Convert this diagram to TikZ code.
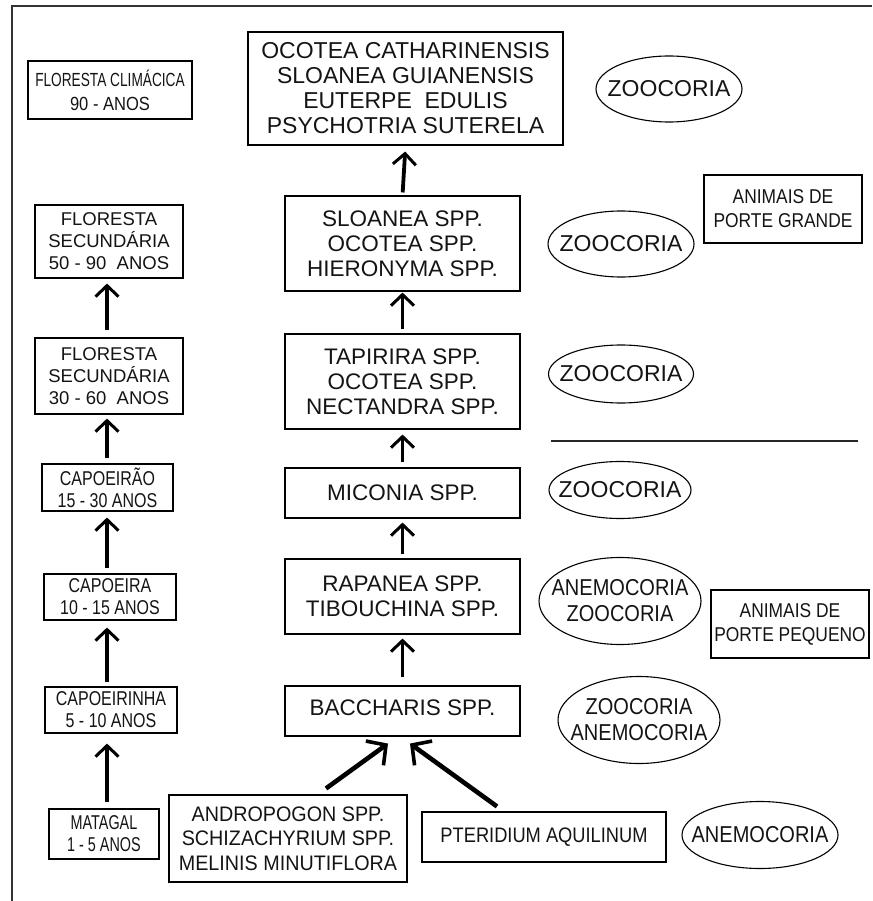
\documentclass[tikz,border=0pt]{standalone}
\usepackage{fontspec}
\setmainfont{Liberation Sans}
\newfontfamily\fA[FakeStretch=0.72]{Liberation Sans}
\newfontfamily\fB[FakeStretch=0.80]{Liberation Sans}
\newfontfamily\fC[FakeStretch=0.87]{Liberation Sans}
\newfontfamily\fD[FakeStretch=0.94]{Liberation Sans}
\usetikzlibrary{arrows.meta,shapes.geometric,calc}
\tikzset{
  bx/.style={draw, line width=1.1pt, inner sep=0pt, align=center, text=black!92},
  ell/.style={draw, ellipse, line width=1.1pt, inner sep=0pt},
  lbl/.style={align=center, text=black!92},
  arr/.style={line width=3.8pt, -{Straight Barb[length=11pt,width=23pt,line width=3pt]}},
  darr/.style={line width=4.6pt, -{Straight Barb[length=14pt,width=30pt,line width=3.6pt]}},
  mainf/.style={font=\fontsize{22.5}{25}\selectfont},
  ellf/.style={font=\fontsize{23}{26}\selectfont},
}
\begin{document}
\begin{tikzpicture}[x=1pt,y=-1pt]
\useasboundingbox (0,0) rectangle (872,901);
% frame
\draw[line width=1.4pt, black!80] (12,901) -- (12,6) -- (872,6);

% left column
\node[bx, minimum width=164, minimum height=58, font=\fontsize{19}{24}\selectfont] (clim) at (110,90)
  {{\fA FLORESTA CLIMÁCICA}\\{\fC 90 - ANOS}};
\node[bx, minimum width=148, minimum height=73, font=\fontsize{18.5}{22}\selectfont] (f5090) at (109,241.5)
  {FLORESTA\\SECUNDÁRIA\\50 - 90\ \ ANOS};
\node[bx, minimum width=148, minimum height=76, font=\fontsize{18.5}{22}\selectfont] (f3060) at (109,376)
  {FLORESTA\\SECUNDÁRIA\\30 - 60\ \ ANOS};
\node[bx, minimum width=131, minimum height=47, font=\fontsize{20}{22}\fB] (capoeirao) at (107.5,487.5)
  {CAPOEIRÃO\\15 - 30 ANOS};
\node[bx, minimum width=132, minimum height=46, font=\fontsize{20}{22}\fB] (capoeira) at (110,597)
  {CAPOEIRA\\10 - 15 ANOS};
\node[bx, minimum width=132, minimum height=46, font=\fontsize{20}{22}\fB] (capoeirinha) at (111,710)
  {CAPOEIRINHA\\5 - 10 ANOS};
\node[bx, minimum width=110, minimum height=50, font=\fontsize{20}{22}\fA] (matagal) at (104,834)
  {MATAGAL\\1 - 5 ANOS};

\coordinate (lx) at (107,0);
\draw[arr, shorten <=7pt, shorten >=5pt] (f3060.north -| lx) -- (f5090.south -| lx);
\draw[arr, shorten <=5pt, shorten >=4pt] (capoeirao.north -| lx) -- (f3060.south -| lx);
\draw[arr, shorten <=5pt, shorten >=6pt] (capoeira.north -| lx) -- (capoeirao.south -| lx);
\draw[arr, shorten <=4pt, shorten >=7pt] (capoeirinha.north -| lx) -- (capoeira.south -| lx);
\draw[arr, shorten <=6pt, shorten >=10pt] (matagal.north -| lx) -- (capoeirinha.south -| lx);

% middle column
\node[bx, font=\fontsize{23}{25}\selectfont, minimum width=315, minimum height=113] (top) at (405.5,88.5)
  {OCOTEA CATHARINENSIS\\SLOANEA GUIANENSIS\\EUTERPE\ \ EDULIS\\PSYCHOTRIA SUTERELA};
\node[bx, mainf, minimum width=235, minimum height=95] (sloanea) at (402.5,243.5)
  {SLOANEA SPP.\\OCOTEA SPP.\\HIERONYMA SPP.};
\node[bx, mainf, minimum width=235, minimum height=95] (tapirira) at (402.5,381.5)
  {TAPIRIRA SPP.\\OCOTEA SPP.\\NECTANDRA SPP.};
\node[bx, mainf, minimum width=235, minimum height=50] (miconia) at (402.5,493)
  {MICONIA SPP.};
\node[bx, mainf, minimum width=235, minimum height=75] (rapanea) at (402.5,596.5)
  {RAPANEA SPP.\\TIBOUCHINA SPP.};
\node[bx, mainf, minimum width=235, minimum height=50] (baccharis) at (402.5,711)
  {\raisebox{6pt}{BACCHARIS SPP.}};
\node[bx, minimum width=238, minimum height=87, font=\fontsize{21}{24.5}\fD] (andropogon) at (288,838.5)
  {ANDROPOGON SPP.\\SCHIZACHYRIUM SPP.\\MELINIS MINUTIFLORA};
\node[bx, minimum width=244, minimum height=50, font=\fontsize{21}{24}\fC] (pteridium) at (544,837)
  {PTERIDIUM AQUILINUM};

\draw[arr, shorten <=3pt, shorten >=6pt] (sloanea.north) -- (top.south);
\draw[arr, shorten <=4pt, shorten >=1pt] (tapirira.north) -- (sloanea.south);
\draw[arr, shorten <=5pt, shorten >=5pt] (miconia.north) -- (tapirira.south);
\draw[arr, shorten <=4pt, shorten >=4pt] (rapanea.north) -- (miconia.south);
\draw[arr, shorten <=8pt, shorten >=4pt] (baccharis.north) -- (rapanea.south);
\draw[darr] ($(andropogon.north)+(38,-6)$) -- ($(baccharis.south)+(-14.5,7)$);
\draw[darr] ($(pteridium.north)+(-47,-5)$) -- ($(baccharis.south)+(7.5,7)$);

% dispersal ellipses
\node[ell, minimum width=146, minimum height=66, label={[lbl, ellf]center:ZOOCORIA}] (e1) at (669,89) {};
\node[ell, minimum width=146, minimum height=66, label={[lbl, ellf]center:ZOOCORIA}] (e2) at (621,244) {};
\node[ell, minimum width=145, minimum height=58, label={[lbl, ellf]center:ZOOCORIA}] (e3) at (621,374) {};
\node[ell, minimum width=142, minimum height=57, label={[lbl, ellf]center:ZOOCORIA}] (e4) at (620,490) {};
\node[ell, minimum width=162, minimum height=87, label={[lbl, font=\fontsize{23}{26}\fC]center:ANEMOCORIA\\ZOOCORIA}] (e5) at (620,601) {};
\node[ell, minimum width=162, minimum height=87, label={[lbl, font=\fontsize{23}{26}\fC]center:ZOOCORIA\\ANEMOCORIA}] (e6) at (639,720) {};
\node[ell, minimum width=156, minimum height=67, label={[lbl, font=\fontsize{23}{26}\fC]center:ANEMOCORIA}] (e7) at (760,835) {};

% animal size boxes
\node[bx, minimum width=158, minimum height=68, font=\fontsize{20}{24}\fC] (grande) at (783,209)
  {ANIMAIS DE\\PORTE GRANDE};
\node[bx, minimum width=158, minimum height=68, font=\fontsize{20}{24}\fC] (pequeno) at (790,624)
  {ANIMAIS DE\\PORTE PEQUENO};

% separator
\draw[line width=1.1pt, black!85] (551,441) -- (858,441);
\end{tikzpicture}
\end{document}
